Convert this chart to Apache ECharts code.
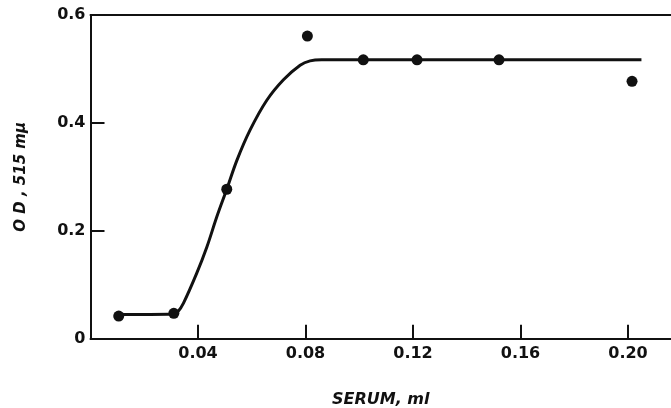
<!DOCTYPE html>
<html>
<head>
<meta charset="utf-8">
<script src="https://cdn.jsdelivr.net/npm/echarts@6/dist/echarts.min.js"></script>
<style>html,body{margin:0;padding:0;background:#fff;}#c{width:671px;height:408px;}</style>
</head>
<body>
<div id="c"></div>
<script>
// measured data points (serum ml, OD)
var pointX = [0.0105, 0.031, 0.0507, 0.0807, 0.1015, 0.1215, 0.152, 0.2015];
var pointY = [0.042, 0.047, 0.277, 0.561, 0.517, 0.517, 0.517, 0.477];
// fitted curve
var curveX = [0.0105, 0.031, 0.0325, 0.0346, 0.0395, 0.0433, 0.047, 0.0507, 0.0545, 0.0594, 0.0656, 0.0718, 0.078, 0.0817, 0.086, 0.205];
var curveY = [0.045, 0.046, 0.050, 0.066, 0.121, 0.170, 0.226, 0.277, 0.331, 0.387, 0.442, 0.480, 0.507, 0.515, 0.517, 0.517];
var xTicks = ['0.04', '0.08', '0.12', '0.16', '0.20'];
var yTicks = ['0', '0.2', '0.4', '0.6'];
var xName = 'SERUM, ml';
var yName = 'O D , 515 mμ';

var pts = pointX.map(function (x, i) { return [x, pointY[i]]; });
var crv = curveX.map(function (x, i) { return [x, curveY[i]]; });
var ink = '#111';
var lab = { color: ink, fontFamily: 'DejaVu Sans', fontWeight: 'bold', fontSize: 16 };

var chart = echarts.init(document.getElementById('c'), null, { renderer: 'canvas' });
chart.setOption({
  backgroundColor: '#fff',
  animation: false,
  grid: { left: 90.5, right: 0, top: 15, bottom: 69.3, containLabel: false, outerBoundsMode: 'none' },
  xAxis: [{
    type: 'value', min: 0, max: 0.216, interval: 0.04,
    name: xName, nameLocation: 'middle', nameGap: 53,
    nameTextStyle: { color: ink, fontFamily: 'DejaVu Sans', fontWeight: 'bold', fontStyle: 'italic', fontSize: 16 },
    axisLine: { show: true, lineStyle: { color: ink, width: 2 } },
    axisTick: { show: true, inside: true, length: 14, lineStyle: { color: ink, width: 2 } },
    splitLine: { show: false },
    axisLabel: Object.assign({ margin: 7, showMaxLabel: false, formatter: function (v) {
      var k = v / 0.04;
      var i = Math.round(k) - 1;
      if (Math.abs(k - Math.round(k)) > 0.01) return '';
      return (i >= 0 && i < xTicks.length) ? xTicks[i] : '';
    } }, lab)
  }, {
    type: 'value', position: 'top', min: 0, max: 0.216,
    axisLine: { show: true, onZero: false, lineStyle: { color: ink, width: 2 } },
    axisTick: { show: false }, axisLabel: { show: false }, splitLine: { show: false }
  }],
  yAxis: [{
    type: 'value', min: 0, max: 0.6, interval: 0.2,
    name: yName, nameLocation: 'middle', nameGap: 62, nameRotate: 90,
    nameTextStyle: { color: ink, fontFamily: 'DejaVu Sans', fontWeight: 'bold', fontStyle: 'italic', fontSize: 15 },
    axisLine: { show: true, lineStyle: { color: ink, width: 2 } },
    axisTick: { show: true, inside: true, length: 14, lineStyle: { color: ink, width: 2 } },
    splitLine: { show: false },
    axisLabel: Object.assign({ margin: 5, formatter: function (v) {
      var i = Math.round(v / 0.2);
      return yTicks[i] || '';
    } }, lab)
  }],
  series: [{
    type: 'line', data: crv, smooth: 0.35, symbol: 'none',
    lineStyle: { color: ink, width: 3 }, z: 2
  }, {
    type: 'scatter', data: pts, symbol: 'circle', symbolSize: 11,
    itemStyle: { color: ink, opacity: 1 }, z: 3
  }]
});
</script>
</body>
</html>
